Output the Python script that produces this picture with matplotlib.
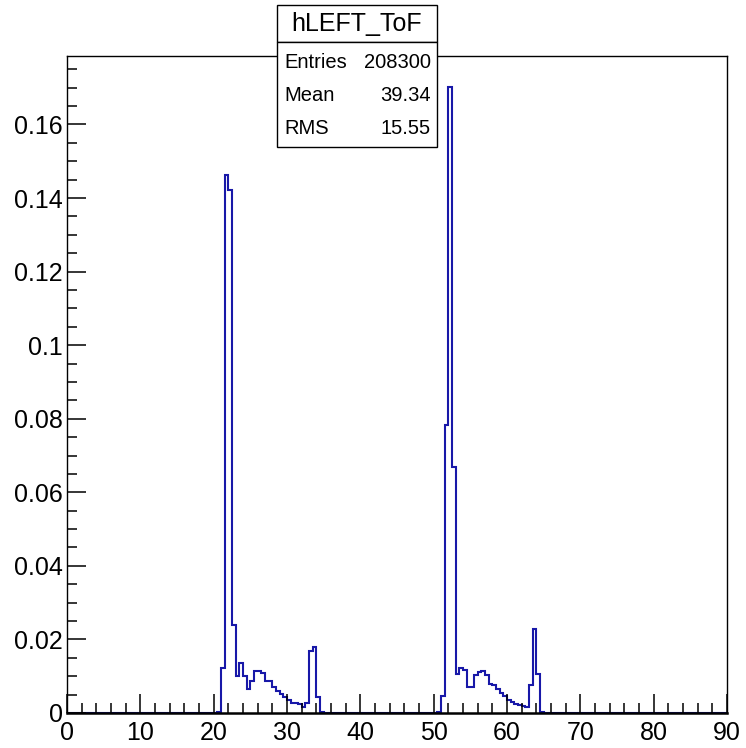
import numpy as np
import matplotlib
matplotlib.use("Agg")
import matplotlib.pyplot as plt
from matplotlib.patches import Rectangle
from matplotlib.ticker import MultipleLocator, FuncFormatter

plt.rcParams['font.family'] = ['Liberation Sans', 'DejaVu Sans']

# ToF histogram, 180 bins of 0.5 between 0 and 90 (normalised to unit area)
n_bins = 180
x_lo, x_hi = 0.0, 90.0

# first cluster, bins starting at 20.5
left_start = 20.5
left_counts = [0.0003, 0.0123, 0.1462, 0.1423, 0.0240, 0.0100, 0.0135, 0.0101,
               0.0065, 0.0086, 0.0113, 0.0113, 0.0108, 0.0086, 0.0086, 0.0070,
               0.0061, 0.0053, 0.0044, 0.0034, 0.0026, 0.0026, 0.0024, 0.0017,
               0.0026, 0.0169, 0.0180, 0.0044, 0.0003]

# second cluster, bins starting at 50.5
right_start = 50.5
right_counts = [0.0003, 0.0045, 0.0783, 0.1701, 0.0668, 0.0106, 0.0122, 0.0118,
                0.0072, 0.0072, 0.0102, 0.0111, 0.0113, 0.0102, 0.0079, 0.0075,
                0.0066, 0.0054, 0.0045, 0.0036, 0.0030, 0.0024, 0.0021, 0.0018,
                0.0017, 0.0075, 0.0229, 0.0106, 0.0003]

hist_name = "hLEFT_ToF"
stats_rows = [("Entries", "208300"), ("Mean", "39.34"), ("RMS", "15.55")]

edges = np.linspace(x_lo, x_hi, n_bins + 1)
width = edges[1] - edges[0]
counts = np.zeros(n_bins)
for start, vals in [(left_start, left_counts), (right_start, right_counts)]:
    i0 = int(round((start - x_lo) / width))
    counts[i0:i0 + len(vals)] = vals

W, H = 746, 748
fig = plt.figure(figsize=(W / 100, H / 100), dpi=100)
fx = lambda p: p / W
fy = lambda p: 1 - p / H

ax = fig.add_axes([fx(67), fy(713), fx(727) - fx(67), fy(56) - fy(713)])
ax.stairs(counts, edges, color="#1818a8", linewidth=1.5)

ax.set_xlim(x_lo, x_hi)
ax.set_ylim(0, 1.05 * counts.max())

ax.xaxis.set_major_locator(MultipleLocator(10))
ax.xaxis.set_minor_locator(MultipleLocator(2))
ax.yaxis.set_major_locator(MultipleLocator(0.02))
ax.yaxis.set_minor_locator(MultipleLocator(0.005))
ax.yaxis.set_major_formatter(FuncFormatter(lambda v, p: "%g" % round(v, 3)))
ax.xaxis.set_major_formatter(FuncFormatter(lambda v, p: "%d" % round(v)))

ax.tick_params(which="both", direction="in", top=False, right=False,
               width=1.1, colors="black", labelsize=18)
ax.tick_params(which="major", length=14)
ax.tick_params(which="minor", length=7.2)
ax.tick_params(axis="x", which="major", pad=6)
ax.tick_params(axis="y", which="major", pad=3)
for s in ax.spines.values():
    s.set_linewidth(1.0)
    s.set_zorder(4)
ax.spines["bottom"].set_linewidth(1.8)

# title box and stats box on top of the frame
def box(x0, y0, x1, y1):
    fig.patches.append(Rectangle((fx(x0), fy(y1)), fx(x1) - fx(x0), fy(y0) - fy(y1),
                                 transform=fig.transFigure, facecolor="white",
                                 edgecolor="black", linewidth=1.0, zorder=5))

box(277, 5, 437, 42)
box(277, 42, 437, 147)
fig.text(fx(357), fy(23.5), hist_name, ha="center", va="center", fontsize=18, zorder=6)
for k, (lab, val) in enumerate(stats_rows):
    yy = fy(62 + 33.5 * k)
    fig.text(fx(284), yy, lab, ha="left", va="center", fontsize=14.5, zorder=6)
    fig.text(fx(431), yy, val, ha="right", va="center", fontsize=14.5, zorder=6)

fig.savefig("out.png", dpi=100)
